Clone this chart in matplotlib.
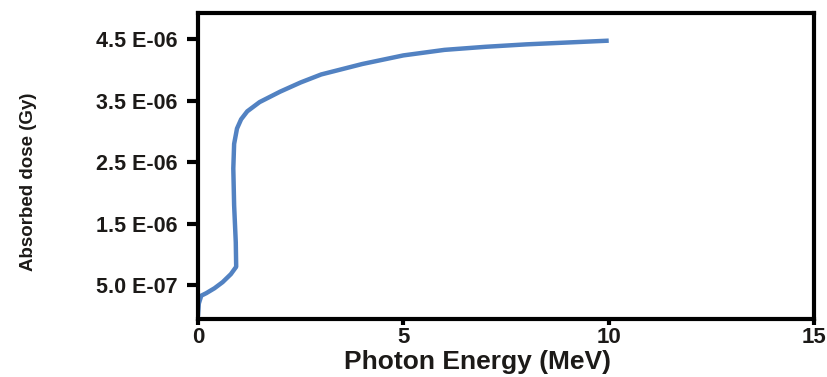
import numpy as np
import matplotlib
matplotlib.use("Agg")
import matplotlib.pyplot as plt

# Data (x in MeV, dose in Gy)
energy = [0.0, 0.02, 0.08, 0.2, 0.4, 0.6, 0.8, 0.93, 0.92, 0.88, 0.86, 0.88,
          0.95, 1.05, 1.2, 1.5, 2.0, 2.5, 3.0, 4.0, 5.0, 6.0, 7.0, 8.0, 9.0, 10.0]
dose = [0.0, 0.2, 0.33, 0.37, 0.45, 0.55, 0.68, 0.8, 1.2, 1.8, 2.4, 2.8,
        3.05, 3.2, 3.33, 3.48, 3.65, 3.8, 3.93, 4.1, 4.24, 4.33, 4.38, 4.42, 4.45, 4.48]
dose = [d * 1e-6 for d in dose]

y_ticks = [5.0e-7, 1.5e-6, 2.5e-6, 3.5e-6, 4.5e-6]
y_tick_labels = ["5.0 E-07", "1.5 E-06", "2.5 E-06", "3.5 E-06", "4.5 E-06"]
x_ticks = [0, 5, 10, 15]

plt.rcParams['font.family'] = ['Liberation Sans', 'DejaVu Sans']
txt = "#1c1a18"

fig = plt.figure(figsize=(8.27, 3.77), dpi=100)
ax = fig.add_axes([0.2394, 0.1538, 0.745, 0.8117])

ax.plot(energy, dose, color="#5282c2", linewidth=3.2, solid_capstyle="butt")

ax.set_xlim(0, 15)
ax.set_ylim(-0.05e-6, 4.93e-6)
ax.set_xticks(x_ticks)
ax.set_xticklabels([str(t) for t in x_ticks], fontsize=16, fontweight="bold", color=txt)
ax.set_yticks(y_ticks)
ax.set_yticklabels(y_tick_labels, fontsize=15.5, fontweight="bold", color=txt)

for s in ax.spines.values():
    s.set_linewidth(3)
ax.tick_params(axis="y", direction="out", length=8, width=3, pad=7)
ax.tick_params(axis="x", direction="out", length=4, width=3, pad=2)

ax.set_xlabel("Photon Energy (MeV)", fontsize=19, fontweight="bold", color=txt)
ax.xaxis.set_label_coords(0.453, -0.1)
ax.set_ylabel("Absorbed dose (Gy)", fontsize=13.5, fontweight="bold", color=txt)
ax.yaxis.set_label_coords(-0.262, 0.448)

fig.savefig("out.png", dpi=100)
